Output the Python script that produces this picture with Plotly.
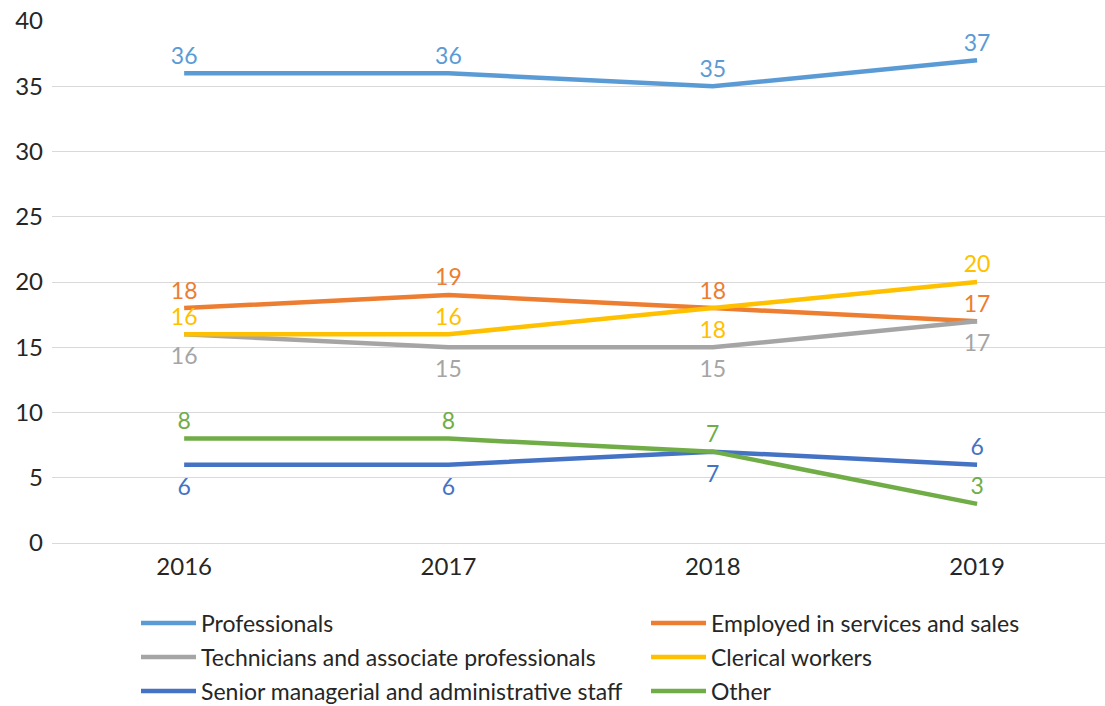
import plotly.graph_objects as go

years = ["2016", "2017", "2018", "2019"]

series_names = [
    "Professionals",
    "Employed in services and sales",
    "Technicians and associate professionals",
    "Clerical workers",
    "Senior managerial and administrative staff",
    "Other",
]
professionals = [36, 36, 35, 37]
services_sales = [18, 19, 18, 17]
technicians = [16, 15, 15, 17]
clerical = [16, 16, 18, 20]
senior_staff = [6, 6, 7, 6]
other = [8, 8, 7, 3]

values = [professionals, services_sales, technicians, clerical, senior_staff, other]
colors = ["#5B9BD5", "#ED7D31", "#A5A5A5", "#FFC000", "#4472C4", "#70AD47"]

# where each value label sits relative to its point
label_pos = [
    ["top center"] * 4,
    ["top center"] * 4,
    ["bottom center"] * 4,
    ["top center", "top center", "bottom center", "top center"],
    ["bottom center", "bottom center", "bottom center", "top center"],
    ["top center"] * 4,
]

# legend rows: two entries per row
legend_rows = {
    "Professionals": "legend",
    "Employed in services and sales": "legend",
    "Technicians and associate professionals": "legend2",
    "Clerical workers": "legend2",
    "Senior managerial and administrative staff": "legend3",
    "Other": "legend3",
}

FONT = "Lato, 'Open Sans', sans-serif"
TEXT = "#262626"

# invisible marker sizes set the gap between a point and its label
GAP_ABOVE = 4.5
GAP_BELOW = 19

fig = go.Figure()
for name, vals, col in zip(series_names, values, colors):
    fig.add_trace(go.Scatter(
        x=years, y=vals, name=name, mode="lines",
        line=dict(color=col, width=4.5),
        legend=legend_rows[name], hoverinfo="skip",
    ))

# value labels
for name, vals, col, pos in zip(series_names, values, colors, label_pos):
    fig.add_trace(go.Scatter(
        x=years, y=vals, mode="markers+text", showlegend=False,
        text=[str(v) for v in vals], textposition=pos,
        textfont=dict(family=FONT, size=23, color=col),
        marker=dict(
            size=[GAP_ABOVE if p.startswith("top") else GAP_BELOW for p in pos],
            opacity=0, color=col,
        ),
        hoverinfo="skip",
    ))

legend_common = dict(
    orientation="h", xref="container", yref="container",
    xanchor="left", yanchor="middle",
    entrywidth=440, itemwidth=55, bgcolor="rgba(0,0,0,0)",
    font=dict(family=FONT, size=23, color=TEXT),
)
row_centers = [623, 657, 691]
x_left = 136 / 1105

fig.update_layout(
    width=1105, height=706,
    margin=dict(l=52, r=0, t=21, b=163, autoexpand=False),
    paper_bgcolor="white", plot_bgcolor="white",
    font=dict(family=FONT, color=TEXT),
    showlegend=True,
    legend=dict(legend_common, x=x_left, y=1 - row_centers[0] / 706),
    legend2=dict(legend_common, x=x_left, y=1 - row_centers[1] / 706),
    legend3=dict(legend_common, x=x_left, y=1 - row_centers[2] / 706),
    xaxis=dict(
        type="category", range=[-0.5, 3.484],
        showgrid=False, showline=False, zeroline=False, ticks="",
        tickfont=dict(family=FONT, size=24, color=TEXT),
        ticklabelstandoff=7,
    ),
    yaxis=dict(
        range=[0, 40], dtick=5, showgrid=True, gridcolor="#D9D9D9", gridwidth=1,
        zeroline=True, zerolinecolor="#D9D9D9", zerolinewidth=1, showline=False,
        ticks="", tickfont=dict(family=FONT, size=24, color=TEXT),
        ticklabelstandoff=8,
    ),
)

fig.write_html("out.html")
